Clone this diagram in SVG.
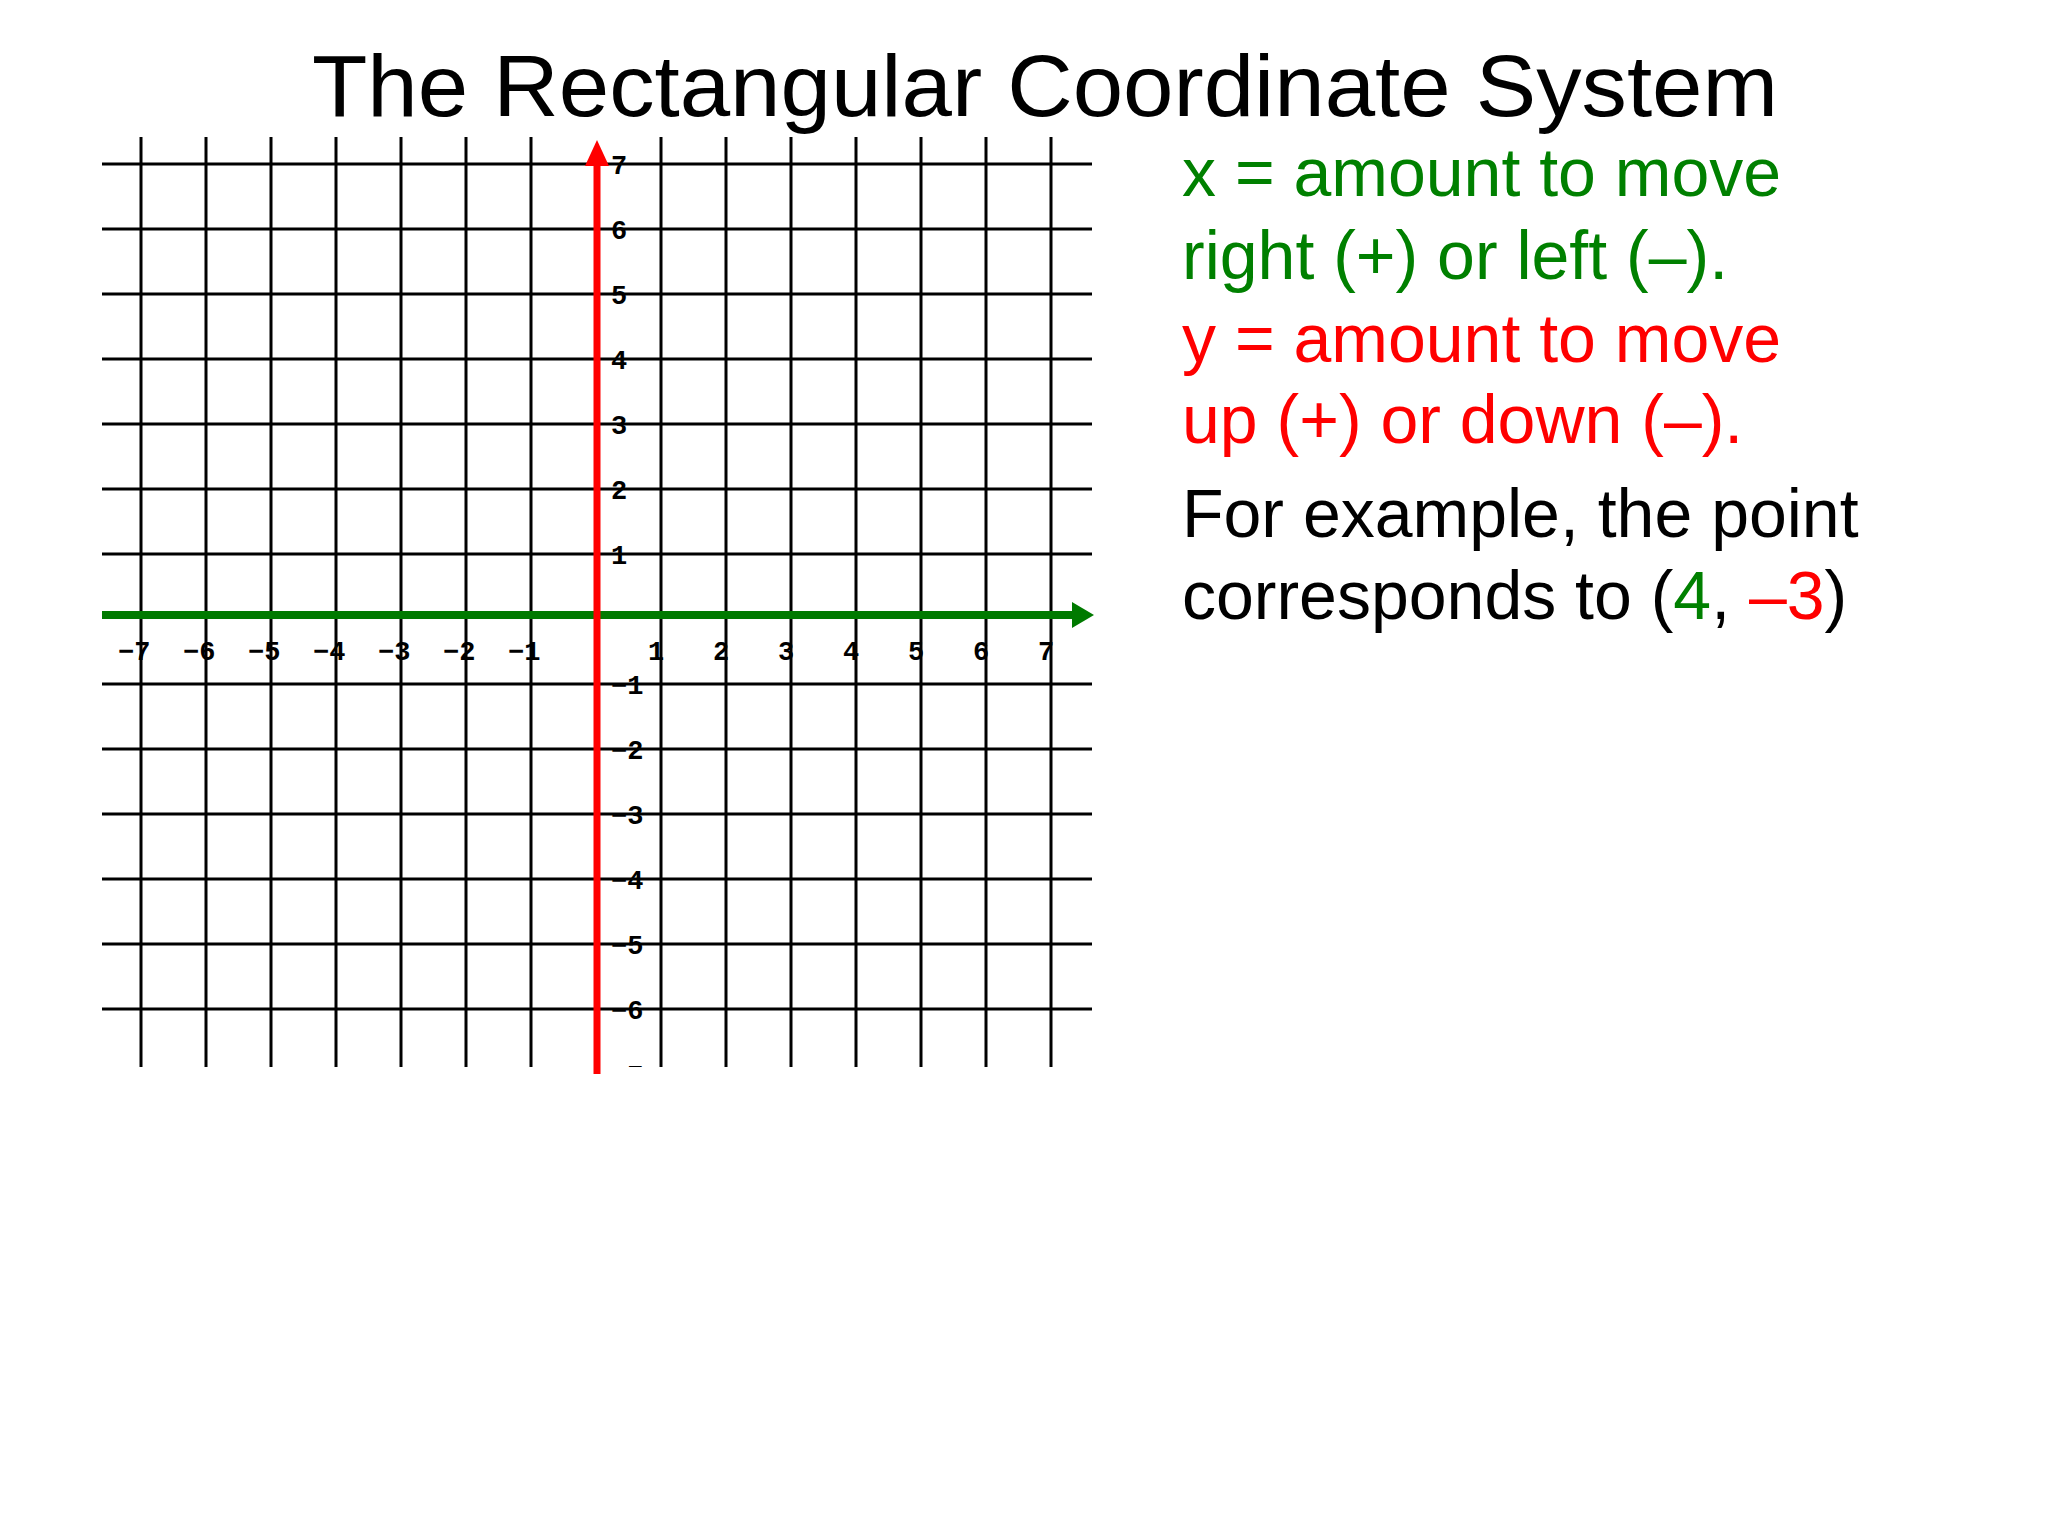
<svg xmlns="http://www.w3.org/2000/svg" width="2048" height="1536" viewBox="0 0 2048 1536">
<style>
.g{stroke:#000;stroke-width:3}
.t{font-family:"Liberation Sans",Arial,sans-serif;font-size:68px}
.k{font-family:"Liberation Mono","Courier New",monospace;font-weight:bold;font-size:27px;fill:#000}
</style>
<defs>
<clipPath id="c"><rect x="0" y="0" width="2048" height="1067"/></clipPath>
</defs>
<rect width="2048" height="1536" fill="#fff"/>
<text x="1045" y="116" text-anchor="middle" font-family="Liberation Sans,Arial,sans-serif" font-size="88" textLength="1466" lengthAdjust="spacingAndGlyphs">The Rectangular Coordinate System</text>
<g id="grid">
<path class="g" d="M141 137V1067M206 137V1067M271 137V1067M336 137V1067M401 137V1067M466 137V1067M531 137V1067M661 137V1067M726 137V1067M791 137V1067M856 137V1067M921 137V1067M986 137V1067M1051 137V1067"/>
<path class="g" d="M102 164H1092M102 229H1092M102 294H1092M102 359H1092M102 424H1092M102 489H1092M102 554H1092M102 684H1092M102 749H1092M102 814H1092M102 879H1092M102 944H1092M102 1009H1092"/>
</g>
<g id="axes">
<path d="M102 615H1072" stroke="#007a00" stroke-width="8"/>
<path d="M1072 602L1094 615L1072 628Z" fill="#007a00"/>
<path d="M597 1074V158" stroke="#f00" stroke-width="7"/>
<path d="M585 166L597 140L609 166Z" fill="#f00"/>
</g>
<g id="xlabels" class="k">
<text x="118" y="660">−7</text><text x="183" y="660">−6</text><text x="248" y="660">−5</text><text x="313" y="660">−4</text><text x="378" y="660">−3</text><text x="443" y="660">−2</text><text x="508" y="660">−1</text>
<text x="648" y="660">1</text><text x="713" y="660">2</text><text x="778" y="660">3</text><text x="843" y="660">4</text><text x="908" y="660">5</text><text x="973" y="660">6</text><text x="1038" y="660">7</text>
</g>
<g id="ylabels" class="k">
<text x="611" y="174">7</text><text x="611" y="239">6</text><text x="611" y="304">5</text><text x="611" y="369">4</text><text x="611" y="434">3</text><text x="611" y="499">2</text><text x="611" y="564">1</text>
<text x="611" y="694">−1</text><text x="611" y="759">−2</text><text x="611" y="824">−3</text><text x="611" y="889">−4</text><text x="611" y="954">−5</text><text x="611" y="1019">−6</text>
<text x="611" y="1084" clip-path="url(#c)">−7</text>
</g>
<g id="notes" class="t">
<text x="1182" y="196" fill="#008000">x = amount to move</text>
<text x="1182" y="279" fill="#008000">right (+) or left (–).</text>
<text x="1182" y="362" fill="#f00">y = amount to move</text>
<text x="1182" y="443" fill="#f00">up (+) or down (–).</text>
<text x="1182" y="537" fill="#000">For example, the point</text>
<text x="1182" y="619" fill="#000">corresponds to (<tspan fill="#008000">4</tspan>, <tspan fill="#f00">–3</tspan>)</text>
</g>
</svg>
